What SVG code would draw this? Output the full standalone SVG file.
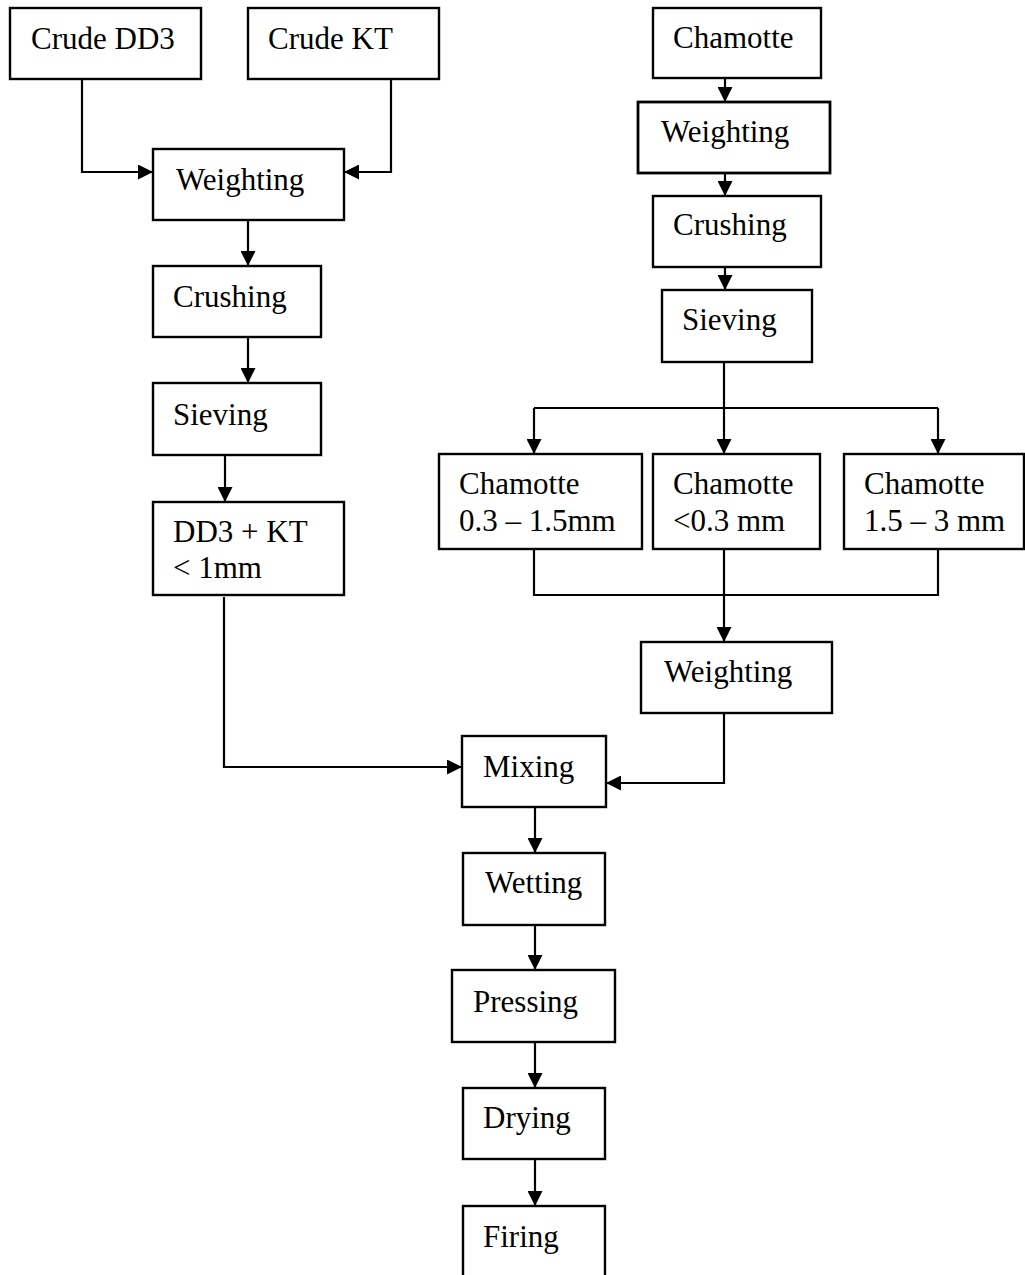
<svg xmlns="http://www.w3.org/2000/svg" width="1025" height="1275" viewBox="0 0 1025 1275">
<defs>
<marker id="arr" markerUnits="userSpaceOnUse" markerWidth="16" markerHeight="15" refX="15" refY="7.5" orient="auto">
<path d="M0,0 L15,7.5 L0,15 z" fill="#000"/>
</marker>
<style>
.box{fill:#fff;stroke:#000;stroke-width:2.4}
.t{font-family:"Liberation Serif","Times New Roman",serif;font-size:31px;fill:#000}
.c{fill:none;stroke:#000;stroke-width:2.2}
.a{marker-end:url(#arr)}
</style>
</defs>
<rect width="1025" height="1275" fill="#fff"/>
<g id="connectors">
<path class="c a" d="M82,79 V172 H153"/>
<path class="c a" d="M391,79 V172 H344"/>
<path class="c a" d="M248,220 V266"/>
<path class="c a" d="M248,337 V383"/>
<path class="c a" d="M225,455 V502"/>
<path class="c a" d="M224,597 V767 H462"/>
<path class="c a" d="M725,78 V102"/>
<path class="c a" d="M725,173 V196"/>
<path class="c a" d="M725,267 V290"/>
<path class="c a" d="M724,362 V454"/>
<path class="c" d="M534,408 H938"/>
<path class="c a" d="M534,408 V454"/>
<path class="c a" d="M938,408 V454"/>
<path class="c" d="M534,549 V595 H938 V549"/>
<path class="c a" d="M724,549 V642"/>
<path class="c a" d="M724,713 V783 H606"/>
<path class="c a" d="M535,807 V853"/>
<path class="c a" d="M535,925 V970"/>
<path class="c a" d="M535,1042 V1088"/>
<path class="c a" d="M535,1159 V1206"/>
</g>
<g id="crude-dd3"><rect class="box" x="10" y="8" width="191" height="71"/><text class="t" x="31" y="49">Crude DD3</text></g>
<g id="crude-kt"><rect class="box" x="248" y="8" width="191" height="71"/><text class="t" x="268" y="49">Crude KT</text></g>
<g id="weighting-1"><rect class="box" x="153" y="149" width="191" height="71"/><text class="t" x="176" y="190">Weighting</text></g>
<g id="crushing-1"><rect class="box" x="153" y="266" width="168" height="71"/><text class="t" x="173" y="307">Crushing</text></g>
<g id="sieving-1"><rect class="box" x="153" y="383" width="168" height="72"/><text class="t" x="173" y="425">Sieving</text></g>
<g id="dd3-kt"><rect class="box" x="153" y="502" width="191" height="93"/><text class="t" x="173" y="542">DD3 + KT</text><text class="t" x="173" y="578">&lt; 1mm</text></g>
<g id="chamotte"><rect class="box" x="653" y="8" width="168" height="70"/><text class="t" x="673" y="48">Chamotte</text></g>
<g id="weighting-2"><rect class="box" x="638" y="102" width="192" height="71" style="stroke-width:2.8"/><text class="t" x="661" y="142">Weighting</text></g>
<g id="crushing-2"><rect class="box" x="653" y="196" width="168" height="71"/><text class="t" x="673" y="235">Crushing</text></g>
<g id="sieving-2"><rect class="box" x="662" y="290" width="150" height="72"/><text class="t" x="682" y="330">Sieving</text></g>
<g id="chamotte-mid"><rect class="box" x="439" y="454" width="203" height="95"/><text class="t" x="459" y="494">Chamotte</text><text class="t" x="459" y="531">0.3 – 1.5mm</text></g>
<g id="chamotte-fine"><rect class="box" x="653" y="454" width="167" height="95"/><text class="t" x="673" y="494">Chamotte</text><text class="t" x="673" y="531">&lt;0.3 mm</text></g>
<g id="chamotte-coarse"><rect class="box" x="844" y="454" width="180" height="95"/><text class="t" x="864" y="494">Chamotte</text><text class="t" x="864" y="531">1.5 – 3 mm</text></g>
<g id="weighting-3"><rect class="box" x="641" y="642" width="191" height="71"/><text class="t" x="664" y="682">Weighting</text></g>
<g id="mixing"><rect class="box" x="462" y="736" width="144" height="71"/><text class="t" x="483" y="777">Mixing</text></g>
<g id="wetting"><rect class="box" x="463" y="853" width="142" height="72"/><text class="t" x="485" y="893">Wetting</text></g>
<g id="pressing"><rect class="box" x="452" y="970" width="163" height="72"/><text class="t" x="473" y="1012">Pressing</text></g>
<g id="drying"><rect class="box" x="463" y="1088" width="142" height="71"/><text class="t" x="483" y="1128">Drying</text></g>
<g id="firing"><rect class="box" x="463" y="1206" width="142" height="80"/><text class="t" x="483" y="1247">Firing</text></g>
</svg>
